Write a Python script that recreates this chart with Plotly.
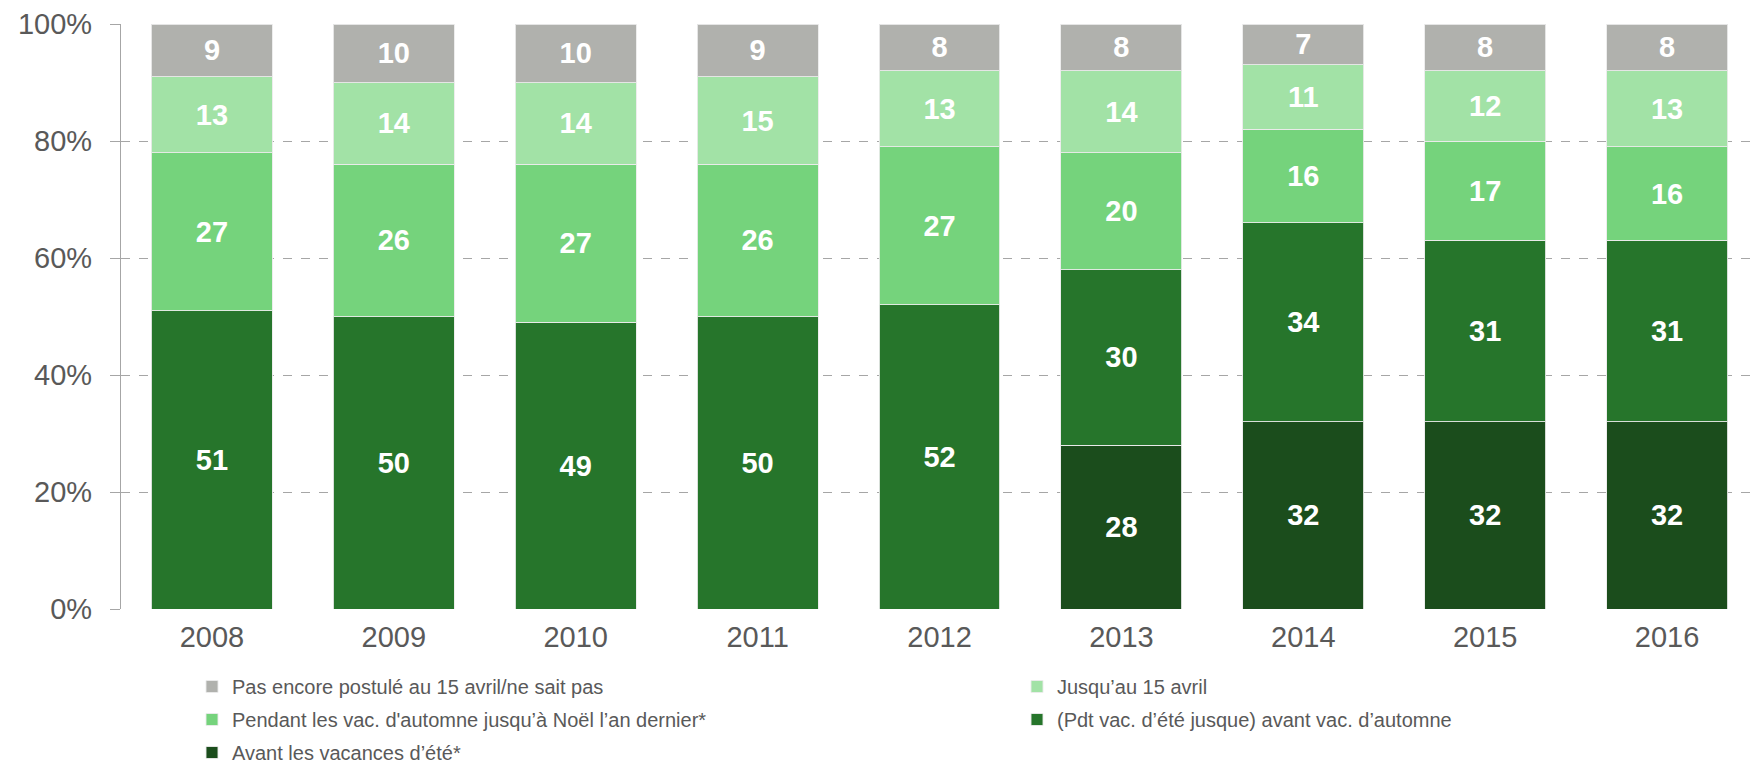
import plotly.graph_objects as go

years = ["2008", "2009", "2010", "2011", "2012", "2013", "2014", "2015", "2016"]

# Shares (%) by period of application, bottom segment first
avant_ete = [None, None, None, None, None, 28, 32, 32, 32]
ete_automne = [51, 50, 49, 50, 52, 30, 34, 31, 31]
automne_noel = [27, 26, 27, 26, 27, 20, 16, 17, 16]
jusqu_avril = [13, 14, 14, 15, 13, 14, 11, 12, 13]
pas_encore = [9, 10, 10, 9, 8, 8, 7, 8, 8]

# (label, values, colour, legend column, rank within column)
series = [
    ("Avant les vacances d’été*", avant_ete, "#1B4D1C", "legend", 3),
    ("(Pdt vac. d’été jusque) avant vac. d’automne", ete_automne, "#26752B", "legend2", 2),
    ("Pendant les vac. d'automne jusqu’à Noël l’an dernier*", automne_noel, "#75D37C", "legend", 2),
    ("Jusqu’au 15 avril", jusqu_avril, "#A2E2A6", "legend2", 1),
    ("Pas encore postulé au 15 avril/ne sait pas", pas_encore, "#B0B1AD", "legend", 1),
]

fig = go.Figure()
for i, (name, vals, color, leg, rank) in enumerate(series):
    fig.add_trace(go.Bar(
        x=years, y=vals, name=name, legend=leg, legendgroup=f"g{i}", legendrank=rank,
        marker=dict(color=color, line=dict(color="rgba(235,235,235,0.9)", width=1)),
        text=vals, texttemplate="%{text}", textposition="inside",
        insidetextanchor="middle", textangle=0,
        textfont=dict(family="Liberation Sans, Arial, sans-serif", size=29, color="white", weight="bold"),
        hoverinfo="skip",
    ))

W, H = 1758, 765
legend_font = dict(family="Liberation Sans, Arial, sans-serif", size=20, color="#595959")
common_legend = dict(
    orientation="v", traceorder="grouped", tracegroupgap=4,
    xref="container", yref="container", xanchor="left", yanchor="top",
    font=legend_font, bgcolor="rgba(0,0,0,0)",
    itemclick=False, itemdoubleclick=False,
)

fig.update_layout(
    barmode="stack",
    bargap=0.335,
    width=W, height=H,
    margin=dict(l=121, r=0, t=24, b=156, autoexpand=False),
    plot_bgcolor="white", paper_bgcolor="white",
    font=dict(family="Liberation Sans, Arial, sans-serif", color="#595959"),
    showlegend=True,
    legend=dict(common_legend, x=192 / W, y=1 - 667 / H),
    legend2=dict(common_legend, x=1017 / W, y=1 - 667 / H),
    uniformtext=dict(mode="show", minsize=10),
)

fig.update_xaxes(
    showgrid=False, showline=False, ticks="",
    tickfont=dict(size=29, color="#595959"),
    ticklabelstandoff=8,
)
fig.update_yaxes(
    range=[0, 100], tickvals=[0, 20, 40, 60, 80, 100],
    ticktext=["0%", "20%", "40%", "60%", "80%", "100%"],
    showgrid=True, gridcolor="#A6A6A6", griddash="dash", gridwidth=1.3,
    showline=True, linecolor="#A6A6A6", linewidth=1.3,
    ticks="outside", ticklen=10, tickcolor="#A6A6A6", tickwidth=1.3,
    zeroline=False,
    tickfont=dict(size=29, color="#595959"),
    ticklabelstandoff=12,
)

fig.write_html("out.html")
